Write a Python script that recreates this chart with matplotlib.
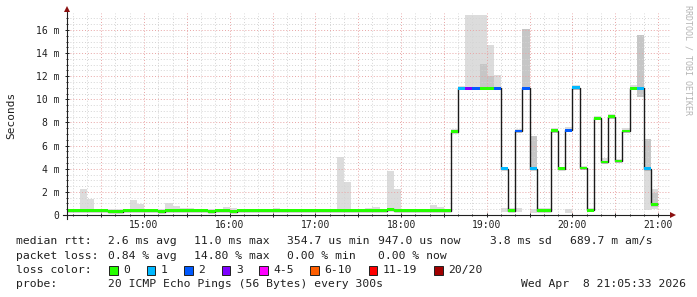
import numpy as np
import matplotlib
matplotlib.use("Agg")
import matplotlib.pyplot as plt
from matplotlib.patches import Rectangle
from matplotlib.ticker import MultipleLocator, FixedLocator

# ---------------- data ----------------
start_min = -55      # first 5-minute step, minutes relative to 15:00 (14:05)
step_min = 5

median_ms = [
    0.38, 0.38, 0.38, 0.38, 0.38, 0.38, 0.30, 0.30, 0.38, 0.38,
    0.38, 0.38, 0.38, 0.30, 0.38, 0.38, 0.38, 0.38, 0.38, 0.38,
    0.30, 0.38, 0.38, 0.30, 0.38, 0.38, 0.38, 0.38, 0.38, 0.38,
    0.38, 0.38, 0.38, 0.38, 0.38, 0.38, 0.38, 0.38, 0.38, 0.38,
    0.38, 0.38, 0.38, 0.38, 0.38, 0.48, 0.38, 0.38, 0.38, 0.38,
    0.38, 0.38, 0.38, 0.38, 7.20, 10.95, 10.95, 10.95, 10.95, 10.95,
    10.95, 4.00, 0.38, 7.27, 10.95, 4.00, 0.38, 0.38, 7.30, 4.00,
    7.33, 11.00, 4.07, 0.40, 8.37, 4.58, 8.50, 4.67, 7.27, 10.96,
    10.96, 4.00, 0.93,
]

lost_pings = [
    0, 0, 0, 0, 0, 0, 0, 0, 0, 0,
    0, 0, 0, 0, 0, 0, 0, 0, 0, 0,
    0, 0, 0, 0, 0, 0, 0, 0, 0, 0,
    0, 0, 0, 0, 0, 0, 0, 0, 0, 0,
    0, 0, 0, 0, 0, 0, 0, 0, 0, 0,
    0, 0, 0, 0, 0, 1, 3, 2, 0, 0,
    2, 1, 0, 2, 2, 1, 0, 0, 0, 0,
    2, 1, 0, 0, 0, 0, 0, 0, 0, 0,
    1, 1, 0,
]

smoke_lo = [
    0.28, 0.28, 0.28, 0.28, 0.28, 0.28, 0.22, 0.22, 0.28, 0.28,
    0.28, 0.28, 0.28, 0.22, 0.28, 0.28, 0.28, 0.28, 0.28, 0.28,
    0.22, 0.28, 0.28, 0.22, 0.28, 0.28, 0.28, 0.28, 0.28, 0.28,
    0.28, 0.28, 0.28, 0.28, 0.28, 0.28, 0.28, 0.28, 0.28, 0.28,
    0.28, 0.28, 0.28, 0.28, 0.28, 0.28, 0.28, 0.28, 0.28, 0.28,
    0.28, 0.28, 0.28, 0.28, 7.05, 10.80, 10.80, 10.80, 10.80, 10.80,
    10.80, 3.85, 0.26, 7.10, 10.80, 3.85, 0.26, 0.26, 7.10, 3.85,
    7.15, 10.80, 3.90, 0.26, 8.20, 4.40, 8.30, 4.50, 7.10, 10.80,
    10.20, 0.43, 0.55,
]

smoke_hi = [
    0.55, 0.55, 2.25, 1.42, 0.55, 0.55, 0.50, 0.50, 0.55, 1.33,
    0.95, 0.55, 0.55, 0.50, 1.04, 0.78, 0.64, 0.64, 0.55, 0.55,
    0.50, 0.55, 0.69, 0.60, 0.55, 0.55, 0.55, 0.55, 0.55, 0.60,
    0.55, 0.55, 0.55, 0.55, 0.55, 0.55, 0.55, 0.55, 5.04, 2.88,
    0.55, 0.55, 0.60, 0.69, 0.55, 3.80, 2.27, 0.55, 0.55, 0.55,
    0.55, 0.87, 0.69, 0.55, 7.44, 11.16, 17.30, 17.30, 17.30, 14.70,
    12.10, 4.18, 0.58, 7.40, 16.10, 6.86, 0.58, 0.58, 7.50, 4.18,
    7.60, 11.20, 4.20, 0.57, 8.60, 4.96, 8.74, 4.85, 7.50, 11.20,
    15.57, 6.58, 2.25,
]

# denser (inner) smoke band, by step start (minutes after 15:00)
core_min = [235, 240, 265, 270, 345, 350, 355]
core_lo = [10.90, 10.90, 10.90, 3.90, 10.20, 3.90, 0.70]
core_hi = [13.06, 12.00, 16.10, 6.86, 15.57, 6.58, 1.90]

# separate low smoke fragments, by step start
low_min = [250, 260, 270, 295]
low_lo = [0.26, 0.26, 0.20, 0.20]
low_hi = [0.58, 0.58, 0.50, 0.50]

hour_labels = ["15:00", "16:00", "17:00", "18:00", "19:00", "20:00", "21:00"]
y_ticks = [0, 2, 4, 6, 8, 10, 12, 14, 16]
y_labels = ["0", "2 m", "4 m", "6 m", "8 m", "10 m", "12 m", "14 m", "16 m"]

loss_labels = ["0", "1", "2", "3", "4-5", "6-10", "11-19", "20/20"]
loss_colors = ["#26ff00", "#00b8ff", "#0059ff", "#7e00ff",
               "#ff00ff", "#ff5e00", "#ff0000", "#a10000"]
loss_upper = [0, 1, 2, 3, 5, 10, 19, 20]

rtt_stats = ["median rtt:", "2.6 ms avg", "11.0 ms max", "354.7 us min",
             "947.0 us now", "3.8 ms sd", "689.7 m am/s"]
loss_stats = ["packet loss:", "0.84 % avg", "14.80 % max", "0.00 % min",
              "0.00 % now"]
probe_text = ["probe:", "20 ICMP Echo Pings (56 Bytes) every 300s"]
date_text = "Wed Apr  8 21:05:33 2026"

# ---------------- figure ----------------
W, H = 697, 297
fig = plt.figure(figsize=(W / 100, H / 100), dpi=100)
fig.patch.set_facecolor("white")
ax = fig.add_axes([67 / W, (H - 215) / H, 603 / W, 202 / H])
ax.set_facecolor("white")

n = len(median_ms)
t = start_min + step_min * np.arange(n)
med = np.array(median_ms)
lo = np.array(smoke_lo)
hi = np.array(smoke_hi)

# smoke
ax.bar(t, hi - lo, bottom=lo, width=step_min, align="edge",
       color="#dcdcdc", linewidth=0, zorder=1, antialiased=False)
ax.bar(low_min, np.array(low_hi) - np.array(low_lo), bottom=low_lo,
       width=step_min, align="edge", color="#dcdcdc", linewidth=0,
       zorder=1, antialiased=False)
ax.bar(core_min, np.array(core_hi) - np.array(core_lo), bottom=core_lo,
       width=step_min, align="edge", color="#c6c6c6", linewidth=0,
       zorder=1.1, antialiased=False)

# median black step line
edges = np.append(t, t[-1] + step_min)
ax.stairs(med, edges, baseline=None, color="#1a1a1a", linewidth=1.0,
          zorder=3)

# colored median swatches by loss class
cls = np.searchsorted(loss_upper, np.array(lost_pings))
cols = [loss_colors[c] for c in cls]
sw = 0.24
ax.bar(t, sw, bottom=med - sw / 2, width=step_min, align="edge",
       color=cols, linewidth=0, zorder=4, antialiased=False)

# axes limits
ax.set_xlim(-53.9, 368.3)
ax.set_ylim(0, 17.47)

# ticks and grid
hour_pos = [(int(h.split(":")[0]) - 15) * 60 for h in hour_labels]
major_x = np.arange(-30, 361, 30)
ax.xaxis.set_major_locator(FixedLocator(major_x))
ax.set_xticklabels([hour_labels[hour_pos.index(m)] if m in hour_pos else ""
                    for m in major_x])
ax.xaxis.set_minor_locator(MultipleLocator(10))
ax.set_yticks(y_ticks)
ax.set_yticklabels(y_labels)
ax.yaxis.set_minor_locator(MultipleLocator(0.5))

mono = "DejaVu Sans Mono"
for lab in ax.get_xticklabels() + ax.get_yticklabels():
    lab.set_fontfamily(mono)
    lab.set_fontsize(7)
    lab.set_color("#202020")

ax.tick_params(axis="both", which="major", direction="inout", length=3,
               width=0.7, color="#202020")
ax.tick_params(axis="both", which="minor", direction="inout", length=2,
               width=0.7, color="#202020")
ax.tick_params(axis="x", which="major", pad=2)
ax.tick_params(axis="y", which="major", pad=4)

ax.set_axisbelow(False)
ax.grid(which="minor", color="#d4d4d4", linestyle=(0, (1, 2)),
        linewidth=0.7)
ax.grid(which="major", color="#e8a4a4", linestyle=(0, (1, 2)),
        linewidth=0.7)

for s in ax.spines.values():
    s.set_visible(False)

# axis lines with arrows
ax.plot([0, 0], [-4 / 202, 1 + 2 / 202], transform=ax.transAxes,
        color="#202020", linewidth=0.8, clip_on=False, zorder=5)
ax.plot([-4 / 603, 1 + 1 / 603], [0, 0], transform=ax.transAxes,
        color="#202020", linewidth=0.8, clip_on=False, zorder=5)
ax.plot([0], [1 + 4 / 202], marker="^", markersize=4.5, color="#8b1010",
        transform=ax.transAxes, clip_on=False, zorder=6, markeredgewidth=0)
ax.plot([1 + 3 / 603], [0], marker=">", markersize=4.5, color="#8b1010",
        transform=ax.transAxes, clip_on=False, zorder=6, markeredgewidth=0)

# unit label
fig.text(11 / W, 1 - 115 / H, "Seconds", rotation=90, ha="center",
         va="center", fontsize=8, family=mono, color="#202020")

# watermark
fig.text(688 / W, 1 - 60 / H, "RRDTOOL / TOBI OETIKER", rotation=270,
         ha="center", va="center", fontsize=6, family=mono, color="#b4b4b4")

# legend rows
col_x = [16, 108.5, 193.7, 287, 377.5, 490, 569.5]
fs = 8.2


def ftext(x, y, s, **kw):
    fig.text(x / W, 1 - y / H, s, fontsize=fs, family=mono, va="center",
             color="#202020", **kw)


for x, s in zip(col_x, rtt_stats):
    ftext(x, 241, s)
for x, s in zip(col_x, loss_stats):
    ftext(x, 256, s)
ftext(16, 270, "loss color:")
sq_x = [109, 146.6, 184, 221.5, 259, 310, 368.6, 434]
for x, lab, c in zip(sq_x, loss_labels, loss_colors):
    fig.patches.append(Rectangle((x / W, 1 - 274.5 / H), 8.5 / W, 9 / H,
                                 transform=fig.transFigure, facecolor=c,
                                 edgecolor="#202020", linewidth=0.7))
    ftext(x + 14.3, 270, lab)
ftext(16, 284, probe_text[0])
ftext(108.5, 284, probe_text[1])
ftext(686, 284, date_text, ha="right")

fig.savefig("out.png", dpi=100)
